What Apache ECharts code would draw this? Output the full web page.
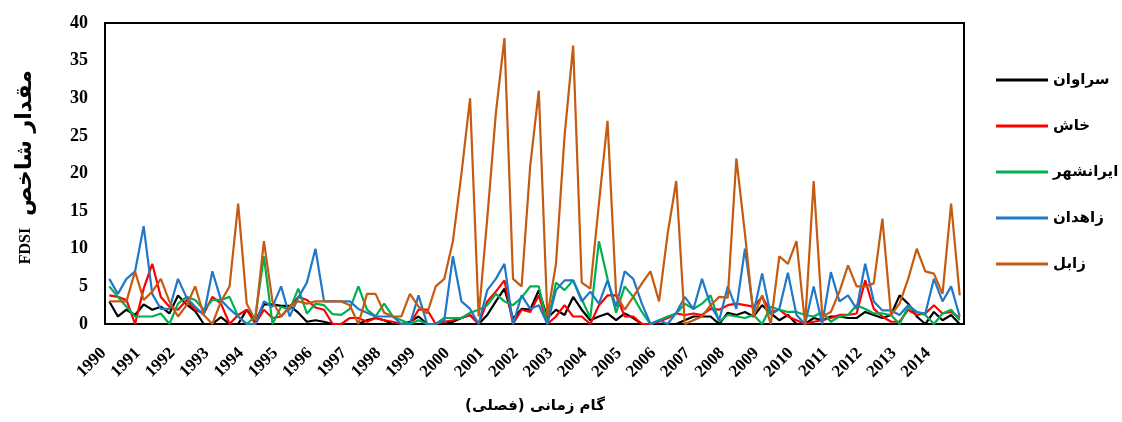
<!DOCTYPE html>
<html>
<head>
<meta charset="utf-8">
<script src="https://cdn.jsdelivr.net/npm/echarts@6/dist/echarts.min.js"></script>
<style>
  html, body { margin: 0; padding: 0; background: #fff; }
  #chart { width: 1122px; height: 422px; direction: rtl; }
</style>
</head>
<body>
<div id="chart"></div>
<script>
// Seasonal FDSI values, 1990-2014 (four seasons per year)
const years = [1990, 1991, 1992, 1993, 1994, 1995, 1996, 1997, 1998, 1999, 2000, 2001,
  2002, 2003, 2004, 2005, 2006, 2007, 2008, 2009, 2010, 2011, 2012, 2013, 2014];
const seasons = [1, 2, 3, 4];

const seriesNames = ['سراوان', 'خاش', 'ایرانشهر', 'زاهدان', 'زابل'];

const saravan = [
  3, 1, 1.9, 1.2,   2.6, 1.9, 2.3, 1.4,   3.8, 2.6, 1.7, 0,   0, 0.9, 0, 0,
  1.9, 0.4, 2.6, 2.6,   2.4, 2.4, 1.5, 0.3,   0.5, 0.3, 0, 0,   0, 0, 0.5, 0.8,
  0.5, 0, 0, 0.3,   1, 0, 0, 0,   0.3, 0.8, 1.2, 0,   1.2, 3, 4.7, 0.7,
  2, 1.9, 4.5, 0.8,   1.9, 1.2, 3.6, 1.9,   0.5, 1, 1.4, 0.5,   1.4, 0.8, 0, 0,
  0, 0, 0, 0.5,   1, 1, 1, 0,   1.5, 1.2, 1.6, 1,   2.5, 1.4, 0.5, 1.2,
  0, 0, 0.8, 0.5,   1, 1, 0.8, 0.8,   1.6, 1.2, 0.8, 1.2,   3.8, 2.7, 1, 0,
  1.6, 0.5, 1.2, 0
];
const khash = [
  3.8, 3.6, 3.2, 0,   4.7, 8, 3.6, 2.3,   1.9, 3.2, 1.9, 1.4,   3.6, 2.7, 0, 1.2,
  1.9, 0, 1.9, 0.8,   1, 2.3, 3.6, 3.2,   2.2, 1.9, 0, 0,   0.8, 0.8, 0.3, 0.8,
  0.5, 0.3, 0, 0,   1.9, 1.9, 0, 0.3,   0.5, 0.8, 1.2, 0,   3, 4.3, 5.8, 0,
  1.9, 1.6, 3.8, 0,   1, 2.5, 1, 1,   0, 2.5, 3.8, 3.8,   1, 1, 0, 0,
  0.3, 0.8, 1.4, 1.2,   1.4, 1.2, 2, 1.9,   2.5, 2.7, 2.5, 2.3,   3.6, 1.6, 1.9, 1,
  0.5, 0, 0.3, 0.5,   0.8, 1.2, 1.2, 1.4,   5.8, 2, 1, 0.3,   0.3, 1.9, 1.2, 1.4,
  2.5, 1.4, 1.6, 0.8
];
const iranshahr = [
  5, 3.6, 2.3, 1,   1, 1, 1.4, 0,   2.7, 3.6, 3.2, 1.9,   3.2, 3.2, 3.6, 1,
  0, 1, 9, 0,   2.3, 1.9, 4.7, 1.4,   2.7, 2.5, 1.3, 1.2,   2, 5, 1.9, 1,
  2.7, 1, 0.5, 0,   0.5, 0, 0, 0.8,   0.8, 0.8, 1.5, 1.9,   2.5, 4, 3, 2.5,
  3.5, 5, 5, 0,   5.5, 4.5, 5.8, 3.3,   0.8, 11, 6, 1.5,   5, 3.6, 1.6, 0,
  0.5, 1, 1.4, 2.7,   2, 2.7, 3.8, 0.3,   1.2, 1, 0.8, 1.2,   0, 2.3, 1.9, 1.6,
  1.6, 1.2, 1, 1.6,   0.3, 1, 1.2, 2.5,   2, 1.4, 1.4, 1.2,   0, 2.3, 1.6, 1.2,
  0, 1.4, 1.9, 0.5
];
const zahedan = [
  6, 4, 6, 7,   13, 4, 2, 2,   6, 3.5, 2.3, 1.2,   7, 3.2, 2, 1,
  0, 0, 3, 2.3,   5, 1, 3.5, 5.5,   10, 3, 3, 3,   3, 2, 1.5, 1,
  1, 1, 0, 0,   3.8, 0, 0, 0.5,   9, 3, 2, 0,   4.5, 6, 8, 0,
  3.8, 2, 2.5, 0,   4.5, 5.8, 5.8, 3,   4.3, 2.7, 5.8, 2.3,   7, 6, 2.7, 0,
  0.5, 0, 1.5, 3.6,   2, 6, 2.5, 0.5,   5, 2, 10, 1.5,   6.7, 1.2, 2, 6.8,
  1.2, 0, 5, 0,   6.9, 3, 3.8, 2,   8, 3, 1.8, 1.8,   1.2, 2.5, 1.6, 1.4,
  6, 3, 5, 1
];
const zabol = [
  3, 3, 3, 7,   3.2, 4.3, 6, 3,   1, 2.5, 5, 1.2,   0, 3, 5, 16,
  2.7, 0.5, 11, 3,   1, 2.3, 3, 2.7,   3, 3, 3, 3,   2.5, 0, 4, 4,
  1.5, 1, 1, 4,   2.3, 1.4, 5, 6,   11, 20, 30, 1,   14, 28, 38, 6,
  5, 21, 31, 1,   8, 25, 37, 5.5,   4.7, 16, 27, 4,   1.9, 3.6, 5.4, 7,
  3, 12, 19, 0,   0.5, 1, 2.5, 3.6,   3.5, 22, 12, 1,   3.8, 0, 9, 8,
  11, 0, 19, 1,   1.6, 4.3, 7.8, 5,   5, 5.4, 14, 1.2,   2.7, 6, 10, 7,
  6.7, 4, 16, 3.8
];

const seriesData = [saravan, khash, iranshahr, zahedan, zabol];
const seriesColors = ['#000000', '#ff0000', '#00b050', '#1f78c8', '#c55a11'];

// one category per season; only the year is shown on the axis
const categories = [];
years.forEach(y => seasons.forEach(s => categories.push(y + '-' + s)));

const chart = echarts.init(document.getElementById('chart'), null, { renderer: 'canvas' });

chart.setOption({
  animation: false,
  backgroundColor: '#ffffff',
  grid: {
    left: 105, right: 158, top: 23, bottom: 98,
    show: true, borderColor: '#000', borderWidth: 2
  },
  legend: {
    orient: 'vertical',
    left: 991, top: 66,
    icon: 'rect',
    itemWidth: 52, itemHeight: 3, itemGap: 28,
    data: seriesNames,
    textStyle: { fontFamily: 'DejaVu Sans', fontWeight: 'bold', fontSize: 15, color: '#000', lineHeight: 18 }
  },
  xAxis: {
    type: 'category',
    data: categories,
    boundaryGap: true,
    axisLine: { show: true, lineStyle: { color: '#000', width: 2 } },
    axisTick: { show: false },
    splitLine: { show: false },
    axisLabel: {
      interval: 3,
      rotate: 45,
      margin: 21,
      padding: [0, 8, 0, 0],
      color: '#000',
      fontFamily: 'Liberation Serif',
      fontWeight: 'bold',
      fontSize: 17,
      formatter: v => v.split('-')[0]
    }
  },
  yAxis: {
    type: 'value',
    min: 0, max: 40, interval: 5,
    axisLine: { show: true, lineStyle: { color: '#000', width: 2 } },
    axisTick: { show: false },
    splitLine: { show: false },
    axisLabel: {
      margin: 17,
      color: '#000',
      fontFamily: 'Liberation Serif',
      fontWeight: 'bold',
      fontSize: 18
    }
  },
  graphic: [
    {
      // y-axis title, Persian part
      type: 'text',
      x: 25, y: 143,
      rotation: Math.PI / 2,
      style: {
        text: 'مقدار شاخص',
        font: 'bold 22px "DejaVu Sans"',
        fill: '#000',
        align: 'center',
        verticalAlign: 'middle'
      }
    },
    {
      // y-axis title, index name
      type: 'text',
      x: 26, y: 246,
      rotation: Math.PI / 2,
      style: {
        text: 'FDSI',
        font: 'bold 16px "Liberation Serif"',
        fill: '#000',
        align: 'center',
        verticalAlign: 'middle'
      }
    },
    {
      type: 'text',
      x: 535, y: 406,
      style: {
        text: 'گام زمانی (فصلی)',
        font: 'bold 15px "DejaVu Sans"',
        fill: '#000',
        align: 'center',
        verticalAlign: 'middle'
      }
    }
  ],
  series: seriesNames.map((name, k) => ({
    name: name,
    type: 'line',
    data: seriesData[k],
    symbol: 'none',
    color: seriesColors[k],
    lineStyle: { color: seriesColors[k], width: 2.2 }
  }))
});
</script>
</body>
</html>
